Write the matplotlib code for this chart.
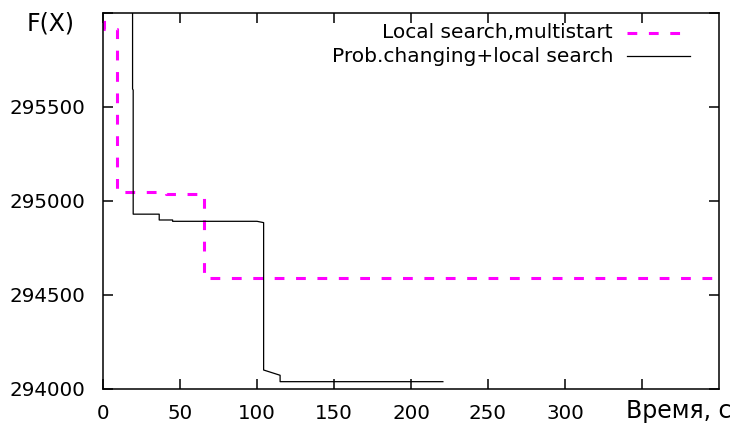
import numpy as np
import matplotlib
matplotlib.use('Agg')
import matplotlib.pyplot as plt
from matplotlib.lines import Line2D

# best objective value found so far vs. elapsed time
multistart_t = [0.5, 0.5, 9.4, 9.4, 41, 41, 65.6, 65.6, 400]
multistart_f = [296100, 295915, 295915, 295050, 295050, 295035, 295035, 294590, 294590]

probchange_t = [19.2, 19.2, 19.6, 19.6, 36.5, 36.5, 45.2, 45.2, 100, 104.3, 104.3, 115, 115, 220.7]
probchange_f = [296100, 295596, 295590, 294930, 294930, 294899, 294899, 294892, 294892, 294885,
                294101, 294073, 294039, 294039]

series_labels = ['Local search,multistart', 'Prob.changing+local search']
x_ticks = [0, 50, 100, 150, 200, 250, 300, 350]
y_ticks = [294000, 294500, 295000, 295500, 296000]

W, H = 735, 426
fig = plt.figure(figsize=(W / 100, H / 100), dpi=100)
ax = fig.add_axes([103 / W, 1 - 389 / H, (719 - 103) / W, (389 - 13) / H])

ax.plot(multistart_t, multistart_f, color='#ff00ff', lw=2.2, dashes=(3.2, 3.8))
ax.plot(probchange_t, probchange_f, color='black', lw=0.9)

ax.set_xlim(0, 400)
ax.set_ylim(294000, 296000)
ax.set_xticks(x_ticks)
ax.set_xticklabels([str(v) for v in x_ticks[:-1]] + [''])
ax.set_yticks(y_ticks)
ax.set_yticklabels([str(v) for v in y_ticks[:-1]] + [''])
ax.tick_params(direction='in', length=7, width=1.1, top=True, right=True,
               labelsize=14.3)
ax.tick_params(axis='x', pad=11)
ax.tick_params(axis='y', pad=12.5)
for s in ax.spines.values():
    s.set_linewidth(1.1)

# axis titles sit in place of the last tick labels
fig.text(51 / W, 1 - 24 / H, 'F(X)', fontsize=17, ha='center', va='center')
fig.text(732 / W, 1 - 411 / H, 'Время, с', fontsize=17, ha='right', va='center')

# key in the top right corner, text right-aligned with the sample after it
styles = [dict(color='#ff00ff', lw=2.2, dashes=(3.2, 3.8)), dict(color='black', lw=0.9)]
for row, (lab, st) in enumerate(zip(series_labels, styles)):
    y = 1 - (33 + 23 * row) / H
    fig.text(613 / W, y, lab, fontsize=14.5, ha='right', va='center')
    fig.add_artist(Line2D([627 / W, 690 / W], [y, y], transform=fig.transFigure, **st))

fig.savefig('out.png', dpi=100)
